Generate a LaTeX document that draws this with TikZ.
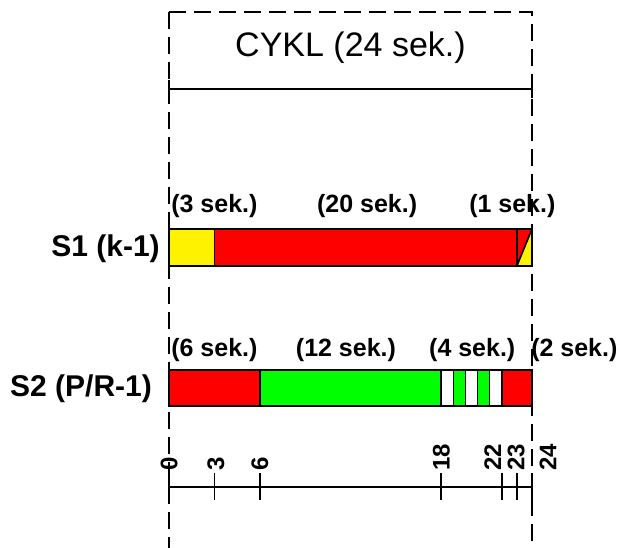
\documentclass[tikz,border=0pt]{standalone}
\usepackage{fontspec}
\setmainfont{Liberation Sans}
\usetikzlibrary{positioning}
\tikzset{
  % Dashed frame of the cycle
  guide/.style={line width=1.6pt, dash pattern=on 17pt off 8pt},
  % Solid lines
  rule/.style={line width=1.6pt},
  % Bar segment
  seg/.style={draw, line width=1.6pt},
  % Cycle title
  heading/.style={font=\fontsize{34}{34}\selectfont, inner sep=0pt, anchor=base},
  % Duration above a segment
  dur/.style={font=\fontsize{25}{25}\selectfont\bfseries, inner sep=0pt, anchor=base},
  % Signal name
  sig/.style={font=\fontsize{30}{30}\selectfont\bfseries, inner sep=0pt, anchor=base east},
  % Time axis label
  tlabel/.style={font=\fontsize{24}{24}\selectfont\bfseries, inner sep=0pt,
    rotate=90, anchor=west},
}

\begin{document}
\begin{tikzpicture}[x=15.125pt, y=1pt]
  \useasboundingbox (-11.174,0) rectangle (29.818,548);

  % frame
  \draw[guide] (0,536) -- (0,0);
  \draw[guide] (0,536) -- (24,536) -- (24,0);
  \draw[rule] (0,459) -- (24,459);
  \draw[rule] (0,468) -- (0,450);
  \draw[rule] (24,468) -- (24,450);
  \node[heading] (cykl) at (12,491) {CYKL (24 sek.)};

  % S1
  \node[sig] (s1) at (-0.6,291) {S1 (k-1)};
  \draw[seg, fill=yellow] (0,282) rectangle (3,319);
  \draw[seg, fill=red] (3,282) rectangle (23,319);
  \draw[seg, fill=red] (23,282) rectangle (24,319);
  \draw[seg, fill=yellow] (23,282) -- (24,319) -- (24,282) -- cycle;
  \node[dur] (s1a) at (3,335) {(3 sek.)};
  \node[dur] (s1b) at (13.1,335) {(20 sek.)};
  \node[dur] (s1c) at (22.7,335) {(1 sek.)};

  % S2
  \node[sig] (s2) at (-1.12,151) {S2 (P/R-1)};
  \draw[seg, fill=red] (0,142) rectangle (6,178);
  \draw[seg, fill=green] (6,142) rectangle (18,178);
  \foreach \i/\c in {0/white,1/green,2/white,3/green,4/white}
    \draw[seg, fill=\c] ({18+0.8*\i},142) rectangle ({18.8+0.8*\i},178);
  \draw[seg, fill=red] (22,142) rectangle (24,178);
  \node[dur] (s2a) at (3,191) {(6 sek.)};
  \node[dur] (s2b) at (11.7,191) {(12 sek.)};
  \node[dur] (s2c) at (20.05,191) {(4 sek.)};
  \node[dur] (s2d) at (26.8,191) {(2 sek.)};

  % time axis
  \draw[rule] (0,61) -- (24,61);
  \foreach \t in {0,3,6,18,22,23,24}
    \draw[rule] (\t,75) -- (\t,48);
  \foreach \t/\p in {0/0,3/3.1,6/6,18/18,22/21.4,23/22.95,24/25.05}
    \node[tlabel] (t\t) at (\p,77) {\t};
\end{tikzpicture}
\end{document}
